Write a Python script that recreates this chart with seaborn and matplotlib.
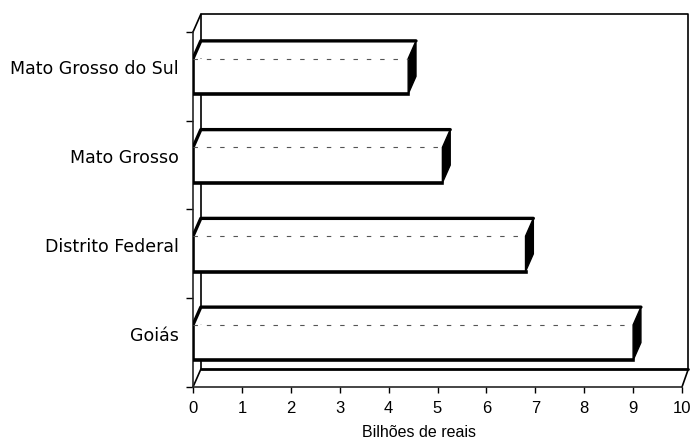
"""
Gráfico de barras horizontais em pseudo-3D: PIB por estado do Centro-Oeste.
"""

import matplotlib
from matplotlib import pyplot as plt
from matplotlib.patches import Polygon
import seaborn as sns
import pandas as pd

matplotlib.use('Agg')

sns.set_style("ticks")
plt.rcParams['font.family'] = ['DejaVu Sans']
plt.rcParams['text.color'] = 'black'
plt.rcParams['axes.labelcolor'] = 'black'
plt.rcParams['xtick.color'] = 'black'
plt.rcParams['ytick.color'] = 'black'

# Dados
estados = ['Mato Grosso do Sul', 'Mato Grosso', 'Distrito Federal', 'Goiás']
valores = [4.4, 5.1, 6.8, 9.0]
ticks_x = list(range(0, 11))

df = pd.DataFrame({'estado': estados, 'valor': valores})

# Profundidade do efeito 3D (em unidades de dados)
DX = 0.16
DY = 0.2
LARGURA = 0.4
n = len(estados)

fig = plt.figure(figsize=(6.9, 4.47), dpi=100)
ax = fig.add_axes([193 / 690, 60 / 447, 497 / 690, 373 / 447])

# Face frontal das barras
sns.barplot(data=df, x='valor', y='estado', orient='h', color='white',
            width=LARGURA, linewidth=0, saturation=1, ax=ax, zorder=3)

ax.set_xlim(0, 497 / 48.9)
ax.set_ylim(n - 0.5, n - 0.5 - 373 / 88.75)

# Paredes e chão
topo = -0.5 - DY
fundo = n - 0.5
xmax = ticks_x[-1]
ax.plot([DX, DX, xmax + DX * 0.8, xmax + DX * 0.8], [fundo - DY, topo, topo, fundo - DY],
        color='black', lw=1.2, clip_on=False, zorder=1)
ax.plot([0, DX], [-0.5, topo], color='black', lw=1.2, clip_on=False, zorder=1)
ax.plot([DX, xmax + DX * 0.8], [fundo - DY, fundo - DY], color='black', lw=2,
        zorder=1, clip_on=False)
ax.plot([0, DX], [fundo, fundo - DY], color='black', lw=1.2, zorder=1, clip_on=False)
ax.plot([xmax, xmax + DX * 0.8], [fundo, fundo - DY], color='black', lw=1.2,
        zorder=1, clip_on=False)

# Faces superior e lateral de cada barra
for i, v in enumerate(valores):
    y_top = i - LARGURA / 2
    y_bot = i + LARGURA / 2
    topo_face = Polygon([(0, y_top), (v, y_top), (v + DX, y_top - DY), (DX, y_top - DY)],
                        closed=True, facecolor='white', edgecolor='none', zorder=3)
    ax.add_patch(topo_face)
    lado = Polygon([(v, y_top), (v + DX, y_top - DY), (v + DX, y_bot - DY), (v, y_bot)],
                   closed=True, facecolor='black', edgecolor='black', lw=1, zorder=4)
    ax.add_patch(lado)
    # Contornos
    ax.plot([0, 0, v], [y_top, y_bot, y_bot], color='black', lw=2.6, zorder=5,
            solid_capstyle='projecting')
    ax.plot([0, DX, v + DX], [y_top, y_top - DY, y_top - DY], color='black', lw=2.4, zorder=5)
    ax.plot([0, v], [y_top, y_top], color='#555555', lw=0.8, ls=(0, (4, 8)), zorder=5)

# Eixos
for lado_sp in ['top', 'right']:
    ax.spines[lado_sp].set_visible(False)
ax.spines['left'].set_bounds(-0.5, n - 0.5)
ax.spines['bottom'].set_bounds(0, xmax)
ax.spines['left'].set_linewidth(1.2)
ax.spines['bottom'].set_linewidth(1.2)
ax.spines['left'].set_zorder(2)

ax.set_xticks(ticks_x)
ax.set_xticklabels([str(t) for t in ticks_x], family='Liberation Sans')
ax.tick_params(axis='x', direction='out', length=4, width=1, labelsize=12, pad=6)

ax.set_yticks([i - DY / 2 for i in range(n)], labels=estados)
ax.tick_params(axis='y', which='major', length=0, labelsize=12.5, pad=10)
ax.set_yticks([i - 0.5 for i in range(n + 1)], minor=True)
ax.tick_params(axis='y', which='minor', direction='out', length=5, width=1)

ax.set_ylabel('')
ax.set_xlabel('Bilhões de reais', fontsize=11.5, family='Liberation Sans')
ax.xaxis.label.set_va('center')
ax.xaxis.set_label_coords(0.455, -0.122)

fig.savefig('out.png', dpi=100)
plt.close(fig)
